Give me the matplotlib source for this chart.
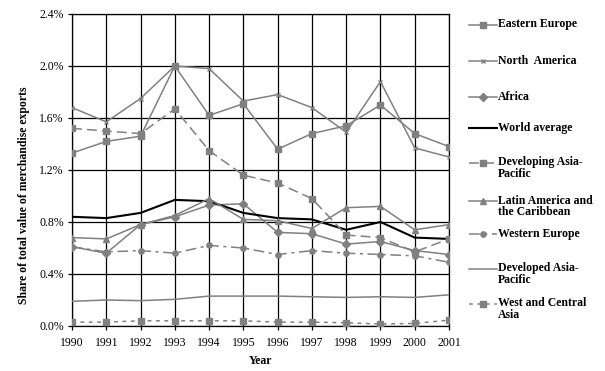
import numpy as np
import matplotlib
matplotlib.use('Agg')
import matplotlib.pyplot as plt
from matplotlib.lines import Line2D
from matplotlib.ticker import FuncFormatter

plt.rcParams['font.family'] = ['Liberation Serif', 'DejaVu Serif']

years = list(range(1990, 2002))

# share of total value of merchandise exports, in %
eastern_europe = [1.33, 1.42, 1.46, 2.00, 1.62, 1.71, 1.36, 1.48, 1.54, 1.70, 1.48, 1.38]
north_america = [1.68, 1.57, 1.75, 2.00, 1.98, 1.73, 1.78, 1.68, 1.49, 1.88, 1.37, 1.30]
africa = [0.61, 0.56, 0.78, 0.84, 0.93, 0.94, 0.72, 0.71, 0.63, 0.65, 0.58, 0.55]
world_average = [0.84, 0.83, 0.87, 0.97, 0.96, 0.87, 0.83, 0.82, 0.74, 0.80, 0.68, 0.67]
developing_asia_pacific = [1.52, 1.50, 1.48, 1.67, 1.35, 1.16, 1.10, 0.98, 0.70, 0.68, 0.57, 0.67]
latin_america = [0.68, 0.67, 0.78, 0.85, 0.98, 0.82, 0.81, 0.75, 0.91, 0.92, 0.74, 0.78]
western_europe = [0.61, 0.57, 0.58, 0.56, 0.62, 0.60, 0.55, 0.58, 0.56, 0.55, 0.54, 0.49]
developed_asia_pacific = [0.19, 0.20, 0.195, 0.205, 0.23, 0.23, 0.23, 0.225, 0.22, 0.225, 0.22, 0.24]
west_central_asia = [0.03, 0.03, 0.04, 0.04, 0.04, 0.04, 0.03, 0.03, 0.025, 0.015, 0.02, 0.045]

labels = ['Eastern Europe', 'North  America', 'Africa', 'World average',
          'Developing Asia-\nPacific', 'Latin America and\nthe Caribbean',
          'Western Europe', 'Developed Asia-\nPacific', 'West and Central\nAsia']

GRAY = '#808080'
dash = (0, (6.5, 3.3))
dashdot = (0, (7, 3, 2, 3))
dotted = (0, (2.5, 3))

# label, data, color, linestyle, marker, markersize, linewidth
series = [
    (labels[0], eastern_europe, GRAY, '-', 's', 3.8, 1.1),
    (labels[1], north_america, GRAY, '-', 'x', 3.2, 1.1),
    (labels[2], africa, GRAY, '-', 'D', 3.6, 1.1),
    (labels[3], world_average, 'black', '-', None, 0, 1.5),
    (labels[4], developing_asia_pacific, GRAY, dash, 's', 3.8, 1.1),
    (labels[5], latin_america, GRAY, '-', '^', 4.2, 1.1),
    (labels[6], western_europe, GRAY, dashdot, 'o', 3.8, 1.1),
    (labels[7], developed_asia_pacific, GRAY, '-', None, 0, 1.1),
    (labels[8], west_central_asia, GRAY, dotted, 's', 3.8, 1.1),
]

fig = plt.figure(figsize=(6.05, 3.71), dpi=100)
ax = fig.add_axes([72 / 605, 1 - 326 / 371, (449 - 72) / 605, (326 - 14) / 371])

for name, vals, col, ls, mk, ms, lw in series:
    ax.plot(years, vals, color=col, linestyle=ls, marker=mk, markersize=ms,
            linewidth=lw, markeredgecolor=col, markerfacecolor=col, zorder=3)

ax.set_xlim(1990, 2001)
ax.set_ylim(0, 2.4)
ax.set_xticks(years)
ax.set_yticks(np.arange(0, 2.41, 0.4))
ax.yaxis.set_major_formatter(FuncFormatter(lambda v, p: '{:.1f}%'.format(v)))
ax.grid(True, color='black', linewidth=0.9)
ax.set_axisbelow(True)
for sp in ax.spines.values():
    sp.set_color('black')
    sp.set_linewidth(0.9)
ax.tick_params(direction='out', length=3, width=0.9, labelsize=8.5)
ax.tick_params(axis='x', pad=5)
ax.tick_params(axis='y', pad=3)

ax.set_ylabel('Share of total value of merchandise exports', fontsize=8.5,
              fontweight='bold')
ax.yaxis.set_label_coords(-0.112, 0.42)
ax.set_xlabel('Year', fontsize=8.5, fontweight='bold', labelpad=4)

# legend drawn by hand in pixel units so entries keep the original spacing
lax = fig.add_axes([0, 0, 1, 1])
lax.set_xlim(0, 605)
lax.set_ylim(371, 0)
lax.axis('off')
legend_y = [25, 61, 97, 128, 163, 201, 234, 269, 304]
for (name, vals, col, ls, mk, ms, lw), y in zip(series, legend_y):
    lax.add_line(Line2D([469, 497], [y, y], color=col, linestyle=ls, linewidth=lw))
    if mk:
        lax.add_line(Line2D([483], [y], color=col, marker=mk, markersize=ms,
                            markeredgecolor=col, markerfacecolor=col))
    lax.text(498, y - 6.5, name, fontsize=8.5, fontweight='bold', va='top',
             ha='left', linespacing=0.95)

fig.savefig('out.png', dpi=100)
